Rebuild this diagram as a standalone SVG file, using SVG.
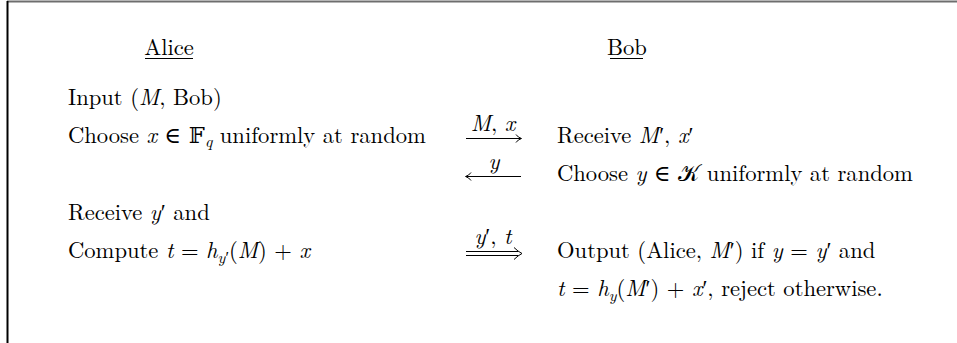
<svg xmlns="http://www.w3.org/2000/svg" width="957" height="343" viewBox="0 0 957 343">
<style>
text{font-family:"Latin Modern Roman","Liberation Serif","DejaVu Serif",serif;font-size:22.6px;fill:#000}
.m{font-style:italic}
.s{font-size:16px}
.ln{stroke:#000;stroke-width:1;fill:none}
</style>
<rect width="957" height="343" fill="#fff"/>
<line x1="7" y1="1.5" x2="957" y2="1.5" stroke="#6e6e6e" stroke-width="2"/>
<line x1="7.5" y1="1" x2="7.5" y2="343" stroke="#000" stroke-width="2"/>
<g id="alice-head"><text x="169" y="55" text-anchor="middle">Alice</text><line class="ln" x1="145" y1="58.5" x2="193" y2="58.5"/></g>
<g id="bob-head"><text x="627" y="55" text-anchor="middle">Bob</text><line class="ln" x1="610" y1="58.5" x2="643" y2="58.5"/></g>
<g id="alice-1"><text x="68" y="105">Input (<tspan class="m">M</tspan>, Bob)</text></g>
<g id="alice-2"><text x="68" y="143">Choose <tspan class="m">x</tspan> ∈ 𝔽<tspan class="m s" dy="4">q</tspan><tspan dy="-4"> uniformly at random</tspan></text></g>
<g id="bob-1"><text x="557" y="143">Receive <tspan class="m">M</tspan>′, <tspan class="m">x</tspan>′</text></g>
<g id="bob-2"><text x="557" y="181">Choose <tspan class="m">y</tspan> ∈ 𝒦 uniformly at random</text></g>
<g id="alice-3"><text x="68" y="220">Receive <tspan class="m">y</tspan>′ and</text></g>
<g id="alice-4"><text x="68" y="258">Compute <tspan class="m">t</tspan> = <tspan class="m">h</tspan><tspan class="m s" dy="5">y</tspan><tspan class="s">′</tspan><tspan dy="-5">(</tspan><tspan class="m">M</tspan>) + <tspan class="m">x</tspan></text></g>
<g id="bob-3"><text x="557" y="258">Output (Alice, <tspan class="m">M</tspan>′) if <tspan class="m">y</tspan> = <tspan class="m">y</tspan>′ and</text></g>
<g id="bob-4"><text x="557" y="296"><tspan class="m">t</tspan> = <tspan class="m">h</tspan><tspan class="m s" dy="5">y</tspan><tspan dy="-5">(</tspan><tspan class="m">M</tspan>′) + <tspan class="m">x</tspan>′, reject otherwise.</text></g>
<g id="connectors">
<line class="ln" x1="466" y1="138.5" x2="521" y2="138.5"/>
<path class="ln" d="M516,134.5 Q518,137.5 521.5,138.5 Q518,139.5 516,142.5"/>
<text x="493" y="131" text-anchor="middle"><tspan class="m">M</tspan>, <tspan class="m">x</tspan></text>
<line class="ln" x1="521" y1="176.5" x2="466" y2="176.5"/>
<path class="ln" d="M471,172.5 Q469,175.5 465.5,176.5 Q469,177.5 471,180.5"/>
<text x="494" y="169" text-anchor="middle" class="m">y</text>
<line class="ln" x1="466" y1="251.5" x2="518" y2="251.5"/>
<line class="ln" x1="466" y1="255.5" x2="518" y2="255.5"/>
<path class="ln" d="M514,247.5 Q518,251.5 522,253.5 Q518,255.5 514,259.5"/>
<text x="493" y="244" text-anchor="middle"><tspan class="m">y</tspan>′, <tspan class="m">t</tspan></text>
</g>
</svg>
